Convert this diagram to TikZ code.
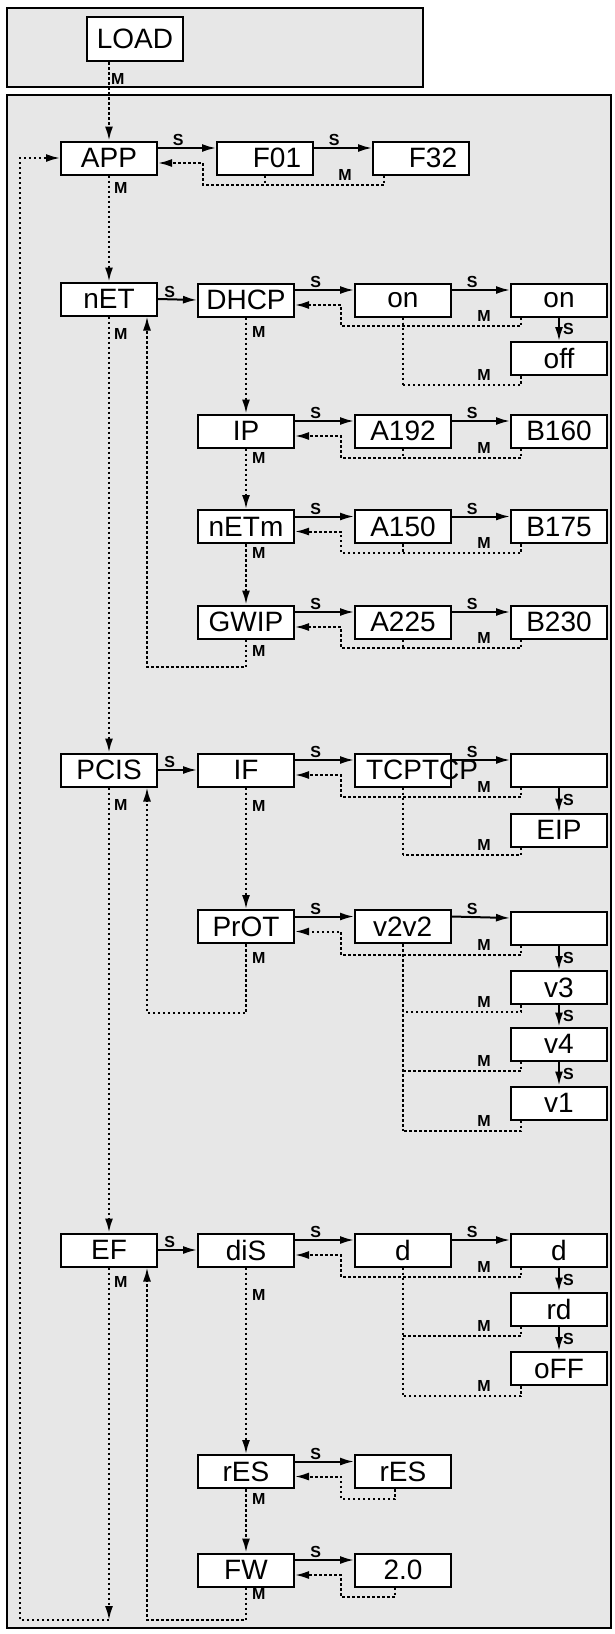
\documentclass[tikz,border=0pt]{standalone}
\usepackage{fontspec}
\setmainfont{Liberation Sans}
\usetikzlibrary{arrows.meta}
\definecolor{panel}{RGB}{231,231,231}
\begin{document}
\begin{tikzpicture}[x=1pt,y=-1pt,
  box/.style={draw,line width=2pt,fill=white,minimum width=96pt,minimum height=33pt,inner sep=0pt,font=\fontsize{28}{28}\selectfont},
  sarr/.style={line width=2pt,-{Latex[length=14pt,width=8pt]}},
  mdot/.style={line width=2pt,dash pattern=on 2.5pt off 2.5pt},
  marr/.style={mdot,-{Latex[length=14pt,width=8pt]}},
  lab/.style={font=\bfseries\fontsize{16}{16}\selectfont,inner sep=1pt}]
\useasboundingbox (0,0) rectangle (615,1634);
\draw[line width=2pt,fill=panel] (7,8) rectangle (423,87);
\draw[line width=2pt,fill=panel] (7,95) rectangle (611,1628);

\node[box,minimum width=96pt,minimum height=44pt] (LOAD) at (135,39) {LOAD};
\node[box] (APP) at (109,158) {APP};
\node[box] (F01) at (265,158) {\hspace*{24pt}F01};
\node[box] (F32) at (421,158) {\hspace*{24pt}F32};

\node[box] (nET) at (109,299) {nET};
\node[box] (DHCP) at (246,300) {DHCP};
\node[box] (on1) at (403,300) {on};
\node[box] (on2) at (559,300) {on};
\node[box] (off) at (559,358.5) {off};

\node[box] (IP) at (246,431) {IP};
\node[box] (A192) at (403,431) {A192};
\node[box] (B160) at (559,431) {B160};
\node[box] (nETm) at (246,526.5) {nETm};
\node[box] (A150) at (403,526.5) {A150};
\node[box] (B175) at (559,526.5) {B175};
\node[box] (GWIP) at (246,622) {GWIP};
\node[box] (A225) at (403,622) {A225};
\node[box] (B230) at (559,622) {B230};

\node[box] (PCIS) at (109,770) {PCIS};
\node[box] (IF) at (246,770) {IF};
\node[box] (TCP) at (403,770) {\makebox[70pt][l]{\hspace*{-2pt}TCPTCP}};
\node[box] (E1) at (559,770) {};
\node[box] (EIP) at (559,830) {EIP};

\node[box] (PrOT) at (246,926.5) {PrOT};
\node[box] (v2) at (403,926.5) {\makebox[60pt][l]{\hspace*{0pt}v2v2}};
\node[box] (E2) at (559,928) {};
\node[box] (v3) at (559,987.5) {v3};
\node[box] (v4) at (559,1044) {v4};
\node[box] (v1) at (559,1103) {v1};

\node[box] (EF) at (109,1250) {EF};
\node[box] (diS) at (246,1250) {diS};
\node[box] (d1) at (403,1250) {d};
\node[box] (d2) at (559,1250) {d};
\node[box] (rd) at (559,1309) {rd};
\node[box] (oFF) at (559,1368.5) {oFF};

\node[box] (rES) at (246,1471.5) {rES};
\node[box] (rES2) at (403,1471.5) {rES};
\node[box] (FW) at (246,1570) {FW};
\node[box] (V20) at (403,1570) {2.0};

\draw[marr] (APP.north |- LOAD.south) -- node[lab,pos=0.22,right]{M} (APP.north);
\draw[marr] (APP.south) -- node[lab,pos=0.12,right=3pt]{M} (nET.north);
\draw[marr] (nET.south) -- node[lab,pos=0.04,right=3pt]{M} (PCIS.north);
\draw[marr] (PCIS.south) -- node[lab,pos=0.04,right=3pt]{M} (EF.north);
\coordinate (bl) at (109,1620);
\draw[marr] (EF.south) -- node[lab,pos=0.04,right=3pt]{M} (bl);
\draw[marr] (bl) -- (20,1620) |- (APP.west);

\draw[sarr] ([yshift=10pt]APP.east) -- node[lab,above,pos=0.35]{S} ([yshift=10pt]F01.west);
\draw[sarr] ([yshift=10pt]F01.east) -- node[lab,above,pos=0.35]{S} ([yshift=10pt]F32.west);
\draw[mdot] (F01.south) -- (265,185);
\draw[marr] ([xshift=12pt]F32.south west) |- (203,185) |- ([yshift=-5pt]APP.east);
\node[lab] (mA) at (345,175) {M};

\foreach \a/\b/\c/\ry in {DHCP/on1/on2/326, IP/A192/B160/458, nETm/A150/B175/553, GWIP/A225/B230/648, IF/TCP/E1/797, PrOT/v2/E2/955, diS/d1/d2/1277}{
  \draw[sarr] ([yshift=10pt]\a.east) -- node[lab,above,pos=0.35]{S} ([yshift=10pt]\b.west);
  \draw[sarr] ([yshift=10pt]\b.east) -- node[lab,above,pos=0.35]{S} ([yshift=10pt]\c.west);
  \draw[mdot] (\b.south) -- (\b.south |- {(0,\ry)});
  \draw[marr] ([xshift=11pt]\c.south west) |- (341,\ry) |- ([yshift=-5pt]\a.east);
  \node[lab] at (484,\ry-10) {M};
}
\foreach \a/\b in {nET/DHCP, PCIS/IF, EF/diS}{
  \draw[sarr] (\a.east) -- node[lab,above,pos=0.3]{S} (\b.west);
}
\foreach \a/\b in {DHCP/IP, IP/nETm, nETm/GWIP, IF/PrOT, diS/rES, rES/FW}{
  \draw[marr] (\a.south) -- node[lab,pos=0.15,right=4pt]{M} (\b.north);
}
\draw[marr] (GWIP.south) -- node[lab,pos=0.4,right=4pt]{M} (246,667) -| ([xshift=38pt]nET.south);
\draw[marr] (PrOT.south) -- node[lab,pos=0.2,right=4pt]{M} (246,1013) -| ([xshift=38pt]PCIS.south);
\draw[marr] (FW.south) -- node[lab,pos=0.2,right=4pt]{M} (246,1620) -| ([xshift=38pt]EF.south);

\foreach \a/\b in {on2/off, E1/EIP, E2/v3, v3/v4, v4/v1, d2/rd, rd/oFF}{
  \draw[sarr] (\a.south) -- node[lab,right=2pt]{S} (\b.north);
}
\foreach \c/\top/\ry in {off/on1/385, EIP/TCP/855, v3/v2/1012, v4/v2/1071, v1/v2/1131, rd/d1/1336, oFF/d1/1396}{
  \draw[mdot] ([xshift=11pt]\c.south west) |- (\top.south |- {(0,\ry)});
  \node[lab] at (484,\ry-10) {M};
}
\draw[mdot] (on1.south) -- (403,385);
\draw[mdot] (TCP.south) -- (403,855);
\draw[mdot] (v2.south) -- (403,1131);
\draw[mdot] (d1.south) -- (403,1396);

\foreach \a/\b/\ry in {rES/rES2/1499, FW/V20/1597}{
  \draw[sarr] ([yshift=10pt]\a.east) -- node[lab,above,pos=0.35]{S} ([yshift=10pt]\b.west);
  \draw[marr] ([xshift=-8pt]\b.south) |- (341,\ry) |- ([yshift=-5pt]\a.east);
}
\end{tikzpicture}
\end{document}
